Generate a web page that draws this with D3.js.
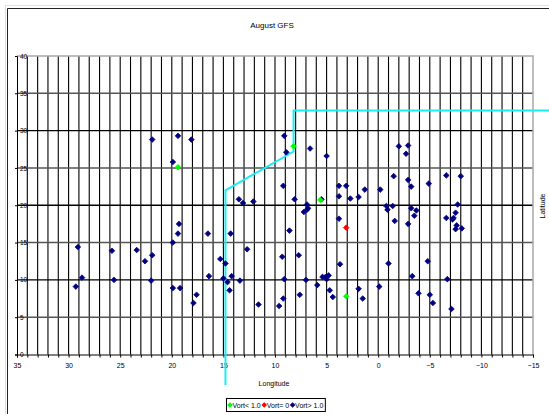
<!DOCTYPE html>
<html>
<head>
<meta charset="utf-8">
<script src="https://cdn.jsdelivr.net/npm/d3@7"></script>
<style>
	body { margin: 0; background: #fff; }
	svg { display: block; }
	text { font-family: "Liberation Sans Narrow", "Liberation Sans", Arial, sans-serif; fill: #000; }
</style>
</head>
<body>
<div id="chart"></div>
<script>
// Vort > 1.0 points (longitude, latitude)
var navy_lon = [29.1,28.7,29.3,25.8,25.6,23.4,22.6,21.9,22.0,19.9,19.9,19.2,21.9,19.4,18.1,19.9,19.3,19.4,
	9.1,8.9,6.6,5.0,9.2,13.5,13.1,12.1,8.1,5.5,6.9,6.8,6.9,7.2,3.8,3.8,3.8,16.5,14.3,12.7,15.3,14.8,
	16.4,15.0,14.6,14.2,13.4,14.4,17.6,17.9,11.6,9.6,9.2,9.1,9.3,8.6,-1.6,-2.9,7.7,3.7,-1.0,7.0,5.9,
	5.4,5.1,4.8,5.0,4.7,4.4,1.9,1.5,-0.1,7.6,-2.0,-2.9,-2.7,-1.5,-2.9,-3.2,-4.9,-6.6,3.1,2.7,1.9,1.3,
	-0.2,-0.8,-0.9,-1.4,-3.2,-3.7,-3.5,-6.6,-8.0,-7.7,-7.5,-7.3,-7.2,-7.6,-7.5,-8.1,-4.8,-3.3,-6.7,
	-3.9,-5.0,-5.3,-7.1];
var navy_lat = [14.4,10.3,9.1,13.9,10.0,14.0,12.5,13.3,9.9,15.0,8.9,8.9,28.8,29.3,28.8,25.8,17.5,16.2,
	29.3,27.1,27.6,26.6,22.6,20.8,20.3,20.5,20.8,20.8,20.1,19.6,19.4,19.1,22.6,21.2,18.2,16.2,16.2,14.1,12.8,12.2,
	10.5,10.2,9.7,10.5,9.9,8.6,8.0,6.9,6.7,6.5,7.5,10.1,13.1,16.6,17.9,17.5,13.3,12.1,12.2,10.0,9.3,
	10.4,10.4,10.6,10.1,8.6,7.7,8.8,7.5,9.1,8.0,27.9,28.0,26.9,23.9,23.4,22.5,22.9,24.0,22.6,20.9,21.1,22.1,
	22.1,19.9,19.4,19.9,19.6,19.3,18.6,18.3,23.9,20.1,19.0,18.3,18.1,17.3,16.8,16.9,12.5,10.5,10.1,
	8.2,8.0,6.9,6.1];

// Vort < 1.0 points
var green_lon = [19.4, 8.2, 5.6, 3.1];
var green_lat = [25.1, 27.9, 20.7, 7.8];

// Vort = 0 points
var red_lon = [3.1];
var red_lat = [17.0];

// cut-off line
var cut_lon = [14.8, 14.8, 8.2, 8.2, -17];
var cut_lat = [-4.1, 22, 27.2, 32.7, 32.7];

var x_ticks = [35, 30, 25, 20, 15, 10, 5, 0, -5, -10, -15];
var y_ticks = [0, 5, 10, 15, 20, 25, 30, 35, 40];
var legend_labels = ['Vort< 1.0', 'Vort= 0', 'Vort> 1.0'];
var legend_colors = ['#00ff00', '#ff0000', '#000080'];


// Create SVG Element
var chart_width     =   549;
var chart_height    =   414;
var svg             =   d3.select( '#chart' )
	.append( 'svg' )
	.attr( 'width', chart_width )
	.attr( 'height', chart_height );

// chart frame
svg.append('path')
	.attr('d', 'M5.5,' + chart_height + 'V5.5H' + chart_width)
	.attr('fill', 'none')
	.attr('stroke', '#f3df9c');
svg.append('path')
	.attr('d', 'M7.5,' + chart_height + 'V8.5H' + chart_width)
	.attr('fill', 'none')
	.attr('stroke', '#222');


// create scales
var x_scale = d3.scaleLinear()
	.domain([35, -15])
	.range([17, 533]);

var y_scale = d3.scaleLinear()
	.domain([0, 40])
	.range([354.5, 56]);


// grid
svg.append('g')
	.selectAll('line')
	.data(d3.range(34, -15, -1))
	.enter()
	.append('line')
	.attr('x1', function(d){ return x_scale(d); })
	.attr('x2', function(d){ return x_scale(d); })
	.attr('y1', y_scale(0))
	.attr('y2', y_scale(40))
	.attr('stroke', '#000')
	.attr('stroke-width', 1.1);

svg.append('g')
	.selectAll('line')
	.data(d3.range(5, 40, 5))
	.enter()
	.append('line')
	.attr('x1', x_scale(35))
	.attr('x2', x_scale(-15))
	.attr('y1', function(d){ return y_scale(d); })
	.attr('y2', function(d){ return y_scale(d); })
	.attr('stroke', function(d){ return d % 10 === 0 ? '#000' : '#555'; })
	.attr('stroke-width', 1.4);

// plot area border (top, right)
svg.append('path')
	.attr('d', 'M' + x_scale(35) + ',' + y_scale(40) + 'H' + x_scale(-15) + 'V' + y_scale(0))
	.attr('fill', 'none')
	.attr('stroke', '#a8a8a8')
	.attr('stroke-width', 1.5);


// axes
var x_minor = d3.axisBottom(x_scale)
	.tickValues(d3.range(35, -16, -1))
	.tickSize(3)
	.tickFormat('');
svg.append('g')
	.attr('transform', 'translate(0,' + y_scale(0) + ')')
	.call(x_minor);

var x_axis = d3.axisBottom(x_scale)
	.tickValues(x_ticks)
	.tickSize(0)
	.tickPadding(9)
	.tickFormat(d3.format('d'));
svg.append('g')
	.attr('transform', 'translate(0,' + y_scale(0) + ')')
	.call(x_axis)
	.call(function(g){ g.select('.domain').remove(); })
	.selectAll('text')
	.attr('font-size', 7);

var y_minor = d3.axisLeft(y_scale)
	.tickValues(y_ticks)
	.tickSize(2)
	.tickFormat('');
svg.append('g')
	.attr('transform', 'translate(' + x_scale(35) + ',0)')
	.call(y_minor);

var y_axis = d3.axisRight(y_scale)
	.tickValues(y_ticks)
	.tickSize(0)
	.tickPadding(3)
	.tickFormat(d3.format('d'));
svg.append('g')
	.attr('transform', 'translate(' + x_scale(35) + ',0)')
	.call(y_axis)
	.call(function(g){ g.select('.domain').remove(); })
	.selectAll('text')
	.attr('font-size', 6.5);

svg.selectAll('.domain').attr('stroke', '#000');


// titles
svg.append('text')
	.text('August GFS')
	.attr('x', 272)
	.attr('y', 28)
	.attr('font-size', 8)
	.attr('text-anchor', 'middle');

svg.append('text')
	.text('Longitude')
	.attr('x', 274)
	.attr('y', 386)
	.attr('font-size', 7)
	.attr('text-anchor', 'middle');

svg.append('text')
	.text('Latitude')
	.attr('transform', 'translate(545,206) rotate(-90)')
	.attr('font-size', 7)
	.attr('text-anchor', 'middle');


// cut-off line
var cut_line = d3.line()
	.x(function(d){ return x_scale(d[0]); })
	.y(function(d){ return y_scale(d[1]); });

svg.append('path')
	.datum(d3.zip(cut_lon, cut_lat))
	.attr('d', cut_line)
	.attr('fill', 'none')
	.attr('stroke', '#19eef2')
	.attr('stroke-width', 2);


// points
var diamond = d3.symbol()
	.type(d3.symbolDiamond2 || d3.symbolDiamond)
	.size(20);

function draw_points( lons, lats, color ){
	svg.append('g')
		.selectAll('path')
		.data(d3.zip(lons, lats))
		.enter()
		.append('path')
		.attr('d', diamond)
		.attr('transform', function(d){
			return 'translate(' + x_scale(d[0]) + ',' + y_scale(d[1]) + ')';
		})
		.attr('fill', color)
		.attr('stroke', color)
		.attr('stroke-width', 0.8);
}

draw_points(navy_lon, navy_lat, '#000080');
draw_points(green_lon, green_lat, '#00ff00');
draw_points(red_lon, red_lat, '#ff0000');


// legend
var legend = svg.append('g');
var legend_box = legend.append('rect')
	.attr('fill', '#fff')
	.attr('stroke', '#000')
	.attr('stroke-width', 1);

var cursor = 228.5;
legend_labels.forEach(function(label, i){
	legend.append('path')
		.attr('d', diamond)
		.attr('transform', 'translate(' + (cursor + 1.5) + ',405)')
		.attr('fill', legend_colors[i]);
	var t = legend.append('text')
		.text(label)
		.attr('x', cursor + 4)
		.attr('y', 407.5)
		.attr('font-size', 7);
	cursor += 4 + t.node().getComputedTextLength() + 2;
});

legend_box
	.attr('x', 226.5)
	.attr('y', 398.5)
	.attr('width', cursor - 226.5)
	.attr('height', 13);
</script>
</body>
</html>
